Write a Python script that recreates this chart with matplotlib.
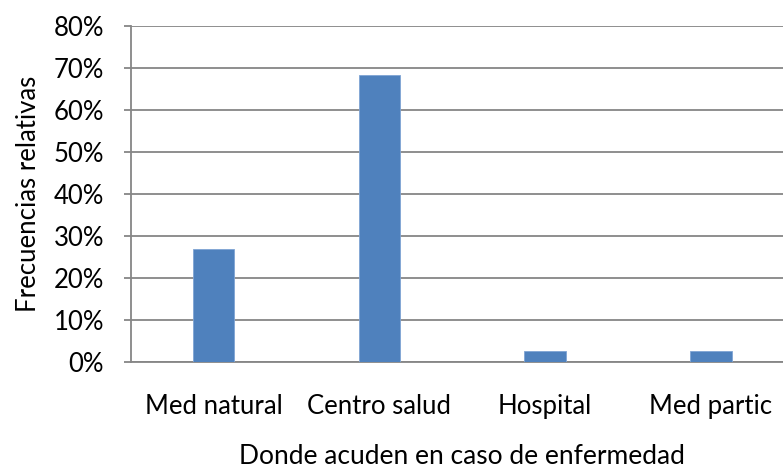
import numpy as np
import matplotlib
matplotlib.use("Agg")
import matplotlib.pyplot as plt
from matplotlib.ticker import PercentFormatter

plt.rcParams['font.family'] = ['Lato', 'DejaVu Sans']

# datos
categorias = ["Med natural", "Centro salud", "Hospital", "Med partic"]
frecuencias = [26.9, 68.4, 2.6, 2.6]  # %
ticks_y = [0, 10, 20, 30, 40, 50, 60, 70, 80]

fig = plt.figure(figsize=(7.83, 4.72), dpi=100)
ax = fig.add_axes([0.1667, 0.233, 0.847, 0.712])

x = np.arange(len(categorias))
ax.bar(x, frecuencias, width=0.25, color="#4F81BD", edgecolor="#7FA4D4",
       linewidth=0.6, zorder=3)

ax.set_xlim(-0.5, len(categorias) - 0.5)
ax.set_ylim(0, 80)
ax.set_yticks(ticks_y)
ax.yaxis.set_major_formatter(PercentFormatter(decimals=0))
ax.set_xticks(x)
ax.set_xticklabels(categorias)

ax.grid(axis="y", color="#868686", linewidth=1.3, zorder=0)
for s in ["top", "right"]:
    ax.spines[s].set_visible(False)
ax.spines["left"].set_color("#868686")
ax.spines["left"].set_linewidth(1.3)
ax.spines["bottom"].set_color("#868686")
ax.spines["bottom"].set_linewidth(1.3)

ax.tick_params(axis="y", length=5, width=1.3, color="#868686", pad=14,
               labelsize=18.5)
ax.tick_params(axis="x", length=0, pad=23, labelsize=18.5)

ax.set_xlabel("Donde acuden en caso de enfermedad", fontsize=19, labelpad=18)
ax.set_ylabel("Frecuencias relativas", fontsize=18.5, labelpad=9)

fig.savefig("out.png", dpi=100)
